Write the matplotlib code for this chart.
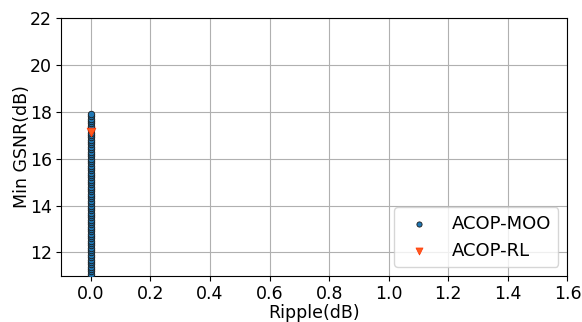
import matplotlib
matplotlib.use("Agg")
import matplotlib.pyplot as plt

# Pareto points from the multi-objective search: (ripple, min GSNR)
moo_gsnr = [11.0, 11.1, 11.2, 11.3, 11.4, 11.5, 11.6, 11.7, 11.8, 11.9,
            12.0, 12.1, 12.2, 12.3, 12.4, 12.5, 12.6, 12.7, 12.8, 12.9,
            13.0, 13.1, 13.2, 13.3, 13.4, 13.5, 13.6, 13.7, 13.8, 13.9,
            14.0, 14.1, 14.2, 14.3, 14.4, 14.5, 14.6, 14.7, 14.8, 14.9,
            15.0, 15.1, 15.2, 15.3, 15.4, 15.5, 15.6, 15.7, 15.8, 15.9,
            16.0, 16.1, 16.2, 16.3, 16.4, 16.5, 16.6, 16.7, 16.8, 16.9,
            17.0, 17.1, 17.2, 17.3, 17.4, 17.5, 17.6, 17.7, 17.8, 17.9]
moo_ripple = [0.0] * len(moo_gsnr)

# RL agent result
rl_ripple = [0.0]
rl_gsnr = [17.15]

fig, ax = plt.subplots(figsize=(5.82, 3.22), dpi=100)
ax.scatter(moo_ripple, moo_gsnr, s=22, color="#1f77b4", edgecolors="#1a1a1a",
           linewidths=0.6, label="ACOP-MOO", zorder=3)
ax.scatter(rl_ripple, rl_gsnr, s=40, marker="v", color="#ff5a1f",
           edgecolors="#ff3300", linewidths=0.5, label="ACOP-RL", zorder=4)

ax.set_xlim(-0.1, 1.6)
ax.set_ylim(11, 22)
ax.set_xticks([0.0, 0.2, 0.4, 0.6, 0.8, 1.0, 1.2, 1.4, 1.6])
ax.set_yticks([12, 14, 16, 18, 20, 22])
ax.grid(True, color="#b0b0b0", linewidth=0.8)
ax.set_axisbelow(True)
ax.tick_params(labelsize=12.5, pad=3)
ax.set_xlabel("Ripple(dB)", fontsize=12.5, labelpad=1)
ax.set_ylabel("Min GSNR(dB)", fontsize=12.5, labelpad=-1)
ax.legend(loc="lower right", fontsize=13, markerscale=0.8)

fig.subplots_adjust(left=0.105, right=0.975, bottom=0.143, top=0.945)
fig.savefig("out.png", dpi=100)
